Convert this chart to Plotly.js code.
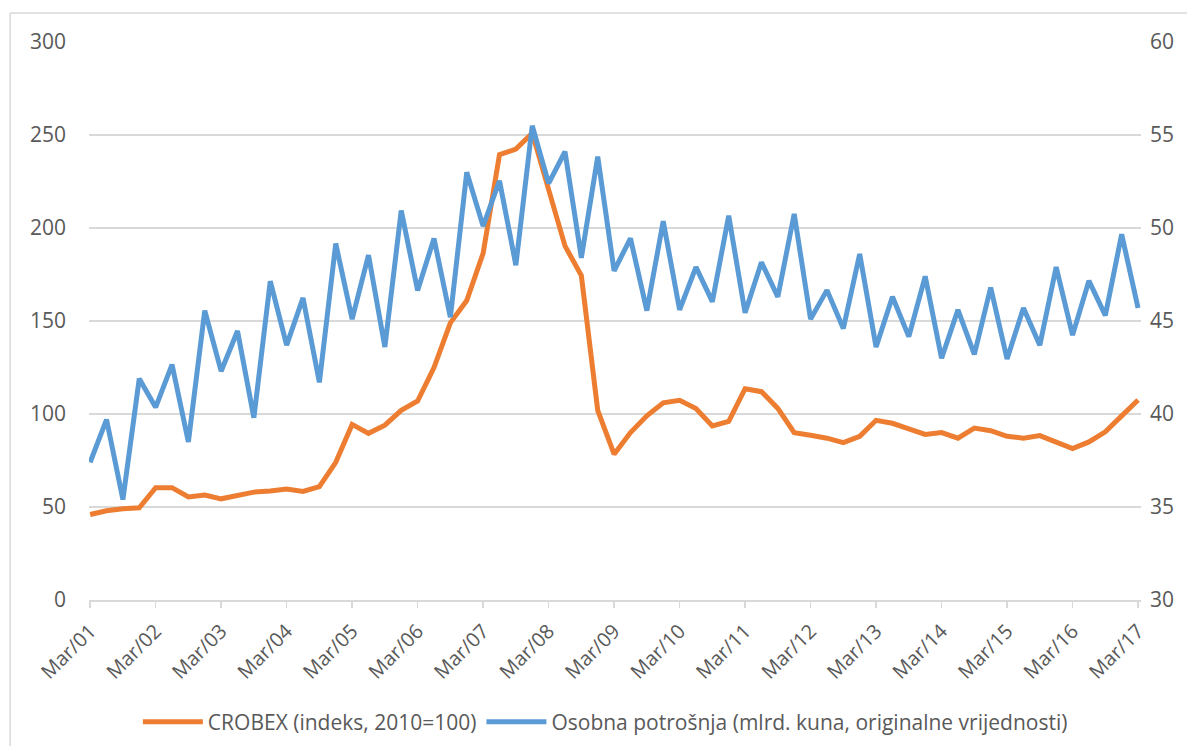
<!DOCTYPE html>
<html>
<head>
<meta charset="utf-8">
<script src="https://cdn.plot.ly/plotly-3.0.1.min.js"></script>
<style>html,body{margin:0;padding:0;background:#fff;}#chart{width:1187px;height:746px;}</style>
</head>
<body>
<div id="chart"></div>
<script>
// Quarterly categories Mar/01 .. Mar/17 (65 quarters)
const months = ["Mar", "Jun", "Sep", "Dec"];
const quarters = [];
for (let y = 1; y <= 17; y++) {
  for (const m of months) {
    if (y === 17 && m !== "Mar") break;
    quarters.push(m + "/" + String(y).padStart(2, "0"));
  }
}
const tickLabels = ["Mar/01","Mar/02","Mar/03","Mar/04","Mar/05","Mar/06","Mar/07","Mar/08","Mar/09",
                    "Mar/10","Mar/11","Mar/12","Mar/13","Mar/14","Mar/15","Mar/16","Mar/17"];

// CROBEX (indeks, 2010=100) - left axis
const crobex = [46, 48, 49, 49.6, 60.4, 60.4, 55.4, 56.4, 54.4, 56.4, 58, 58.6, 59.6, 58.4, 61, 74,
  94.4, 89.6, 94, 102, 107, 125, 149, 161, 186.4, 239.4, 242.4, 251, 220, 190.4, 174.4, 102,
  78.4, 90, 99, 106, 107.4, 103, 93.6, 96, 113.6, 112, 103, 90, 88.6, 87, 84.6, 88,
  96.6, 95, 92, 89, 90, 87, 92.4, 91, 88, 87, 88.4, 85, 81.4, 85, 90.4, 99, 107.5];

// Osobna potrošnja (mlrd. kuna) - right axis
const potrosnja = [37.4, 39.7, 35.4, 41.9, 40.36, 42.66, 38.5, 45.56, 42.3, 44.46, 39.8, 47.14, 43.7, 46.24, 41.7, 49.16,
  45.1, 48.54, 43.6, 50.94, 46.64, 49.44, 45.2, 53, 50.1, 52.54, 48, 55.5, 52.4, 54.1, 48.4, 53.84,
  47.7, 49.44, 45.56, 50.36, 45.6, 47.9, 46.04, 50.66, 45.44, 48.16, 46.3, 50.76, 45.1, 46.66, 44.6, 48.6,
  43.6, 46.3, 44.16, 47.4, 43.0, 45.6, 43.2, 46.8, 42.96, 45.7, 43.7, 47.9, 44.24, 47.16, 45.3, 49.66, 45.7];

const xIdx = quarters.map((q, i) => i);
const tickIdx = tickLabels.map(t => quarters.indexOf(t));

const font = "Open Sans, Liberation Sans, sans-serif";
const grey = "#595959";

const traces = [
  {
    x: xIdx, y: crobex, text: quarters, name: "CROBEX (indeks, 2010=100)",
    type: "scatter", mode: "lines", yaxis: "y",
    line: {color: "#ED7D31", width: 5, shape: "linear"},
    hovertemplate: "%{text}: %{y}<extra></extra>"
  },
  {
    x: xIdx, y: potrosnja, text: quarters, name: "Osobna potrošnja (mlrd. kuna, originalne vrijednosti)",
    type: "scatter", mode: "lines", yaxis: "y2",
    line: {color: "#5B9BD5", width: 5, shape: "linear"},
    hovertemplate: "%{text}: %{y}<extra></extra>"
  }
];

const layout = {
  width: 1187, height: 746,
  paper_bgcolor: "#ffffff", plot_bgcolor: "#ffffff",
  margin: {l: 89, r: 46, t: 42, b: 146},
  font: {family: font, color: grey, size: 20},
  showlegend: true,
  legend: {
    orientation: "h", xref: "container", yref: "container",
    x: 0.51, xanchor: "center", y: 0.032, yanchor: "middle",
    font: {family: font, size: 21, color: grey},
    itemwidth: 60, tracegroupgap: 0
  },
  xaxis: {
    type: "linear", range: [-0.07, 64.18],
    tickvals: tickIdx, ticktext: tickLabels, tickangle: -45,
    ticks: "outside", ticklen: 6, tickcolor: "#d9d9d9", tickwidth: 1.5,
    showline: true, linecolor: "#d9d9d9", linewidth: 1.5,
    showgrid: false, zeroline: false,
    ticklabelstandoff: 4,
    tickfont: {family: font, size: 20, color: grey}
  },
  yaxis: {
    range: [0, 300], dtick: 50, tick0: 0,
    showgrid: true, gridcolor: "#d9d9d9", gridwidth: 1.5,
    zeroline: false, showline: false, ticks: "",
    ticklabelstandoff: 22,
    tickfont: {family: font, size: 21, color: grey}
  },
  yaxis2: {
    range: [30, 60], dtick: 5, tick0: 30,
    overlaying: "y", side: "right",
    showgrid: false, zeroline: false, showline: false, ticks: "",
    ticklabelstandoff: 8,
    tickfont: {family: font, size: 21, color: grey}
  },
  shapes: [
    {type: "line", xref: "paper", yref: "paper", x0: -0.075, x1: 1.1, y0: 1.052, y1: 1.052,
     line: {color: "#d9d9d9", width: 1.5}},
    {type: "line", xref: "paper", yref: "paper", x0: -0.075, x1: -0.075, y0: 1.052, y1: -0.3,
     line: {color: "#d9d9d9", width: 1.5}}
  ]
};

Plotly.newPlot("chart", traces, layout, {displayModeBar: false, staticPlot: true});
</script>
</body>
</html>
